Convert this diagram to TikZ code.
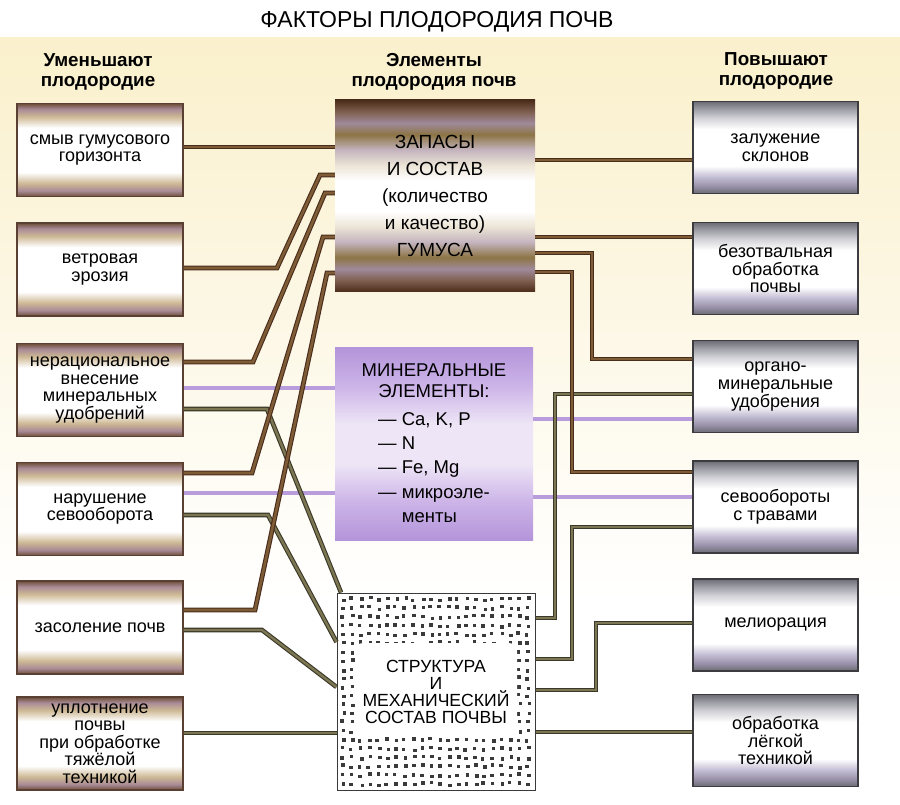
\documentclass[tikz,border=0pt]{standalone}
\usepackage{fontspec}
\setmainfont{Liberation Sans}
\usepackage{tikz}
\usetikzlibrary{positioning,calc}
\usepackage{xcolor}

\definecolor{lbA}{HTML}{6E4E36}
\definecolor{lbB}{HTML}{A88A96}
\definecolor{lbC}{HTML}{CDB894}
\definecolor{lbord}{HTML}{5A4032}
\definecolor{hmA}{HTML}{4A2C1A}
\definecolor{hmB}{HTML}{7E5E4E}
\definecolor{hmC}{HTML}{A08A9A}
\definecolor{hmD}{HTML}{8C7444}
\definecolor{hmE}{HTML}{C4B4BE}
\definecolor{hmF}{HTML}{ECE4D6}
\definecolor{rgA}{HTML}{6C6C74}
\definecolor{rgB}{HTML}{9C9CA4}
\definecolor{rgC}{HTML}{D2D2D8}
\definecolor{rgD}{HTML}{C4BED4}
\definecolor{rgE}{HTML}{9890A8}
\definecolor{rbord}{HTML}{3C3C40}
\definecolor{mnA}{HTML}{B494DA}
\definecolor{mnB}{HTML}{CCB4E8}
\definecolor{mnC}{HTML}{EEE6F6}
\definecolor{brnE}{HTML}{4A2C1C}
\definecolor{brnI}{HTML}{7E5C36}
\definecolor{olE}{HTML}{3A3828}
\definecolor{olI}{HTML}{7C7652}
\definecolor{puL}{HTML}{B89CDC}
\definecolor{dotc}{HTML}{3A3A3A}
\definecolor{cream}{HTML}{FAF0CC}

\pgfdeclareverticalshading{leftshade}{100bp}{color(0bp)=(lbA); color(25bp)=(lbA); color(28bp)=(lbB); color(32bp)=(lbC); color(38bp)=(white); color(62bp)=(white); color(68bp)=(lbC); color(72bp)=(lbB); color(75bp)=(lbA); color(100bp)=(lbA)}
\pgfdeclareverticalshading{humshade}{100bp}{color(0bp)=(hmA); color(25bp)=(hmA); color(28bp)=(hmB); color(31bp)=(hmC); color(34bp)=(hmD); color(38bp)=(hmE); color(42bp)=(hmF); color(46bp)=(white); color(54bp)=(white); color(58bp)=(hmF); color(62bp)=(hmE); color(66bp)=(hmD); color(69bp)=(hmC); color(72bp)=(hmB); color(75bp)=(hmA); color(100bp)=(hmA)}
\pgfdeclareverticalshading{rightshade}{100bp}{color(0bp)=(rgA); color(25bp)=(rgA); color(29bp)=(rgE); color(34bp)=(rgD); color(40bp)=(white); color(60bp)=(white); color(66bp)=(rgC); color(71bp)=(rgB); color(75bp)=(rgA); color(100bp)=(rgA)}
\pgfdeclareverticalshading{minshade}{100bp}{color(0bp)=(mnA); color(25bp)=(mnA); color(35bp)=(mnB); color(45bp)=(mnC); color(55bp)=(mnC); color(65bp)=(mnB); color(75bp)=(mnA); color(100bp)=(mnA)}

\begin{document}
\begin{tikzpicture}[x=1pt,y=-1pt,
    lbox/.style={draw=lbord,line width=1.3pt,shade,shading=leftshade,minimum width=166pt,minimum height=93pt,align=center,inner sep=0pt,font=\fontsize{18}{17.6}\selectfont},
    rbox/.style={draw=rbord,line width=1.3pt,shade,shading=rightshade,minimum width=165pt,minimum height=92pt,align=center,inner sep=0pt,font=\fontsize{18}{17.6}\selectfont},
    humbox/.style={shade,shading=humshade,minimum width=200pt,minimum height=192pt,align=center,inner sep=0pt,font=\fontsize{19}{27}\selectfont},
    minbox/.style={shade,shading=minshade,minimum width=198pt,minimum height=193pt,align=center,inner sep=0pt,font=\fontsize{18.5}{21}\selectfont},
    strbox/.style={draw=dotc,line width=1pt,fill=white,minimum width=198pt,minimum height=197pt,inner sep=0pt},
    strtext/.style={align=center,inner sep=0pt,font=\fontsize{17.6}{17}\selectfont},
    head/.style={align=center,font=\bfseries\fontsize{18.8}{19.5}\selectfont},
    brline/.style={draw=brnE,line width=1.1pt,double=brnI,double distance=2.6pt},
    olline/.style={draw=olE,line width=1.1pt,double=olI,double distance=2.4pt},
    puline/.style={draw=puL,line width=3.4pt}]

    \useasboundingbox (0,0) rectangle (900,805);
    \shade[top color=cream,bottom color=white] (0,38) rectangle (900,600);

    \node[font=\fontsize{23}{23}\selectfont] (title) at (437,22) {ФАКТОРЫ ПЛОДОРОДИЯ ПОЧВ};
    \node[head] (hl) at (98,72) {Уменьшают\\плодородие};
    \node[head] (hc) at (434,72) {Элементы\\плодородия почв};
    \node[head] (hr) at (776,71) {Повышают\\плодородие};

    \node[lbox] (d1) at (100,150) {смыв гумусового\\горизонта};
    \node[lbox] (d2) at (100,269.5) {ветровая\\эрозия};
    \node[lbox] (d3) at (100,390) {нерациональное\\внесение\\минеральных\\удобрений};
    \node[lbox] (d4) at (100,509) {нарушение\\севооборота};
    \node[lbox] (d5) at (100,627.5) {засоление почв};
    \node[lbox] (d6) at (100,743.5) {уплотнение\\почвы\\при обработке\\тяжёлой\\техникой};

    \node[rbox] (p1) at (775.5,147.5) {залужение\\склонов};
    \node[rbox] (p2) at (775.5,268.5) {безотвальная\\обработка\\почвы};
    \node[rbox] (p3) at (775.5,386.5) {органо-\\минеральные\\удобрения};
    \node[rbox] (p4) at (775.5,507) {севообороты\\с травами};
    \node[rbox] (p5) at (775.5,625) {мелиорация};
    \node[rbox] (p6) at (775.5,740.5) {обработка\\лёгкой\\техникой};

    \node[humbox] (hum) at (435,196) {ЗАПАСЫ\\И СОСТАВ\\(количество\\и качество)\\ГУМУСА};
    \node[minbox] (min) at (434,444) {};
    \node[align=center,inner sep=0pt,font=\fontsize{18.5}{21}\selectfont] (mintxt) at (434,447) {МИНЕРАЛЬНЫЕ\\ЭЛЕМЕНТЫ:\\[9pt]\def\arraystretch{1.16}\begin{tabular}{@{}l@{ }l@{}}—&Ca, K, P\\—&N\\—&Fe, Mg\\—&микроэле-\\&менты\end{tabular}};

    \node[strbox] (str) at (436,691.5) {};
    \pgfmathsetseed{11}
    \foreach \i in {0,...,21}
        \foreach \j in {0,...,21}{
            \pgfmathsetmacro{\px}{340+\i*8.8+rnd*3}
            \pgfmathsetmacro{\py}{596+\j*8.8+rnd*3}
            \fill[dotc] (\px,\py) rectangle ++(3.6,3.4);
        }
    \fill[white,rounded corners=8pt] (355,643) rectangle (517,736);
    \node[strtext] (strlbl) at (str) {СТРУКТУРА\\И\\МЕХАНИЧЕСКИЙ\\СОСТАВ ПОЧВЫ};

    % mineral links
    \draw[puline] (d3.east |- 0,388) to (min.west |- 0,388);
    \draw[puline] (d4.east |- 0,493) to (min.west |- 0,493);
    \draw[puline] (min.east |- 0,419) to (p3.west |- 0,419);
    \draw[puline] (min.east |- 0,497) to (p4.west |- 0,497);

    % structure links
    \draw[olline] (d3.east |- 0,409) -- (267,409) -- (str.north -| 341,0);
    \draw[olline] (d4.east |- 0,515) -- (268,515) -- (str.west |- 0,642);
    \draw[olline] (d5.east |- 0,630) -- (262,630) -- (str.west |- 0,687);
    \draw[olline] (d6.east |- 0,733) to (str.west |- 0,733);
    \draw[olline] (p3.west |- 0,394) -- (555,394) -- (555,618) -- (str.east |- 0,618);
    \draw[olline] (p4.west |- 0,527) -- (572,527) -- (572,659) -- (str.east |- 0,659);
    \draw[olline] (p5.west |- 0,623) -- (596,623) -- (596,690) -- (str.east |- 0,690);
    \draw[olline] (p6.west |- 0,732) to (str.east |- 0,732);

    % humus links
    \draw[brline] (d1.east |- 0,147) to (hum.west |- 0,147);
    \draw[brline] (d2.east |- 0,268) -- (277,268) -- (320,175) -- (hum.west |- 0,175);
    \draw[brline] (d3.east |- 0,362) -- (253,362) -- (325,193) -- (hum.west |- 0,193);
    \draw[brline] (d4.east |- 0,473) -- (252,473) -- (323,237) -- (hum.west |- 0,237);
    \draw[brline] (d5.east |- 0,610) -- (255,610) -- (327,273) -- (hum.west |- 0,273);
    \draw[brline] (hum.east |- 0,160) to (p1.west |- 0,160);
    \draw[brline] (hum.east |- 0,237) to (p2.west |- 0,237);
    \draw[brline] (hum.east |- 0,253) -- (592,253) -- (592,359) -- (p3.west |- 0,359);
    \draw[brline] (hum.east |- 0,272) -- (572,272) -- (572,472) -- (p4.west |- 0,472);
\end{tikzpicture}
\end{document}
